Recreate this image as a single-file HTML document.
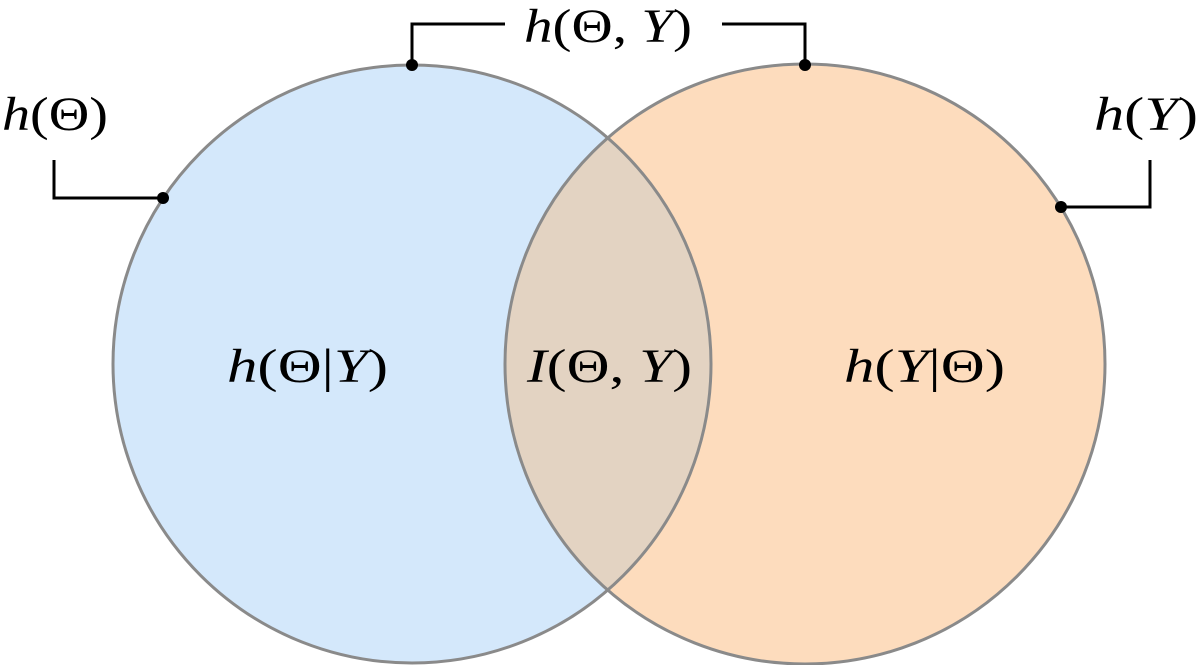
<!DOCTYPE html>
<html><head><meta charset="utf-8"><style>
html,body{margin:0;padding:0;background:#fff;}
svg{display:block;}
text{font-family:"Liberation Serif",serif;font-size:48px;fill:#000;}
.i{font-style:italic;}
</style></head><body>
<svg width="1200" height="665" viewBox="0 0 1200 665" xmlns="http://www.w3.org/2000/svg">
<defs><clipPath id="cl"><circle cx="412" cy="364" r="299"/></clipPath></defs>
<circle cx="412" cy="364" r="299" fill="#d4e8fb"/>
<circle cx="805" cy="364" r="300" fill="#fddcbd"/>
<circle cx="805" cy="364" r="300" fill="#e3d3c2" clip-path="url(#cl)"/>
<circle cx="412" cy="364" r="299" fill="none" stroke="#8a8a8a" stroke-width="3"/>
<circle cx="805" cy="364" r="300" fill="none" stroke="#8a8a8a" stroke-width="3"/>
<g stroke="#000" stroke-width="3" fill="none">
<polyline points="54,160 54,198 163,198"/>
<polyline points="412,65 412,24 505,24"/>
<polyline points="722,24 805,24 805,65"/>
<polyline points="1150,160 1150,207 1061,207"/>
</g>
<g fill="#000">
<circle cx="163" cy="198" r="6"/>
<circle cx="412" cy="65" r="6"/>
<circle cx="805" cy="65" r="6"/>
<circle cx="1061" cy="207" r="6"/>
</g>
<text x="2" y="130" textLength="106" lengthAdjust="spacingAndGlyphs"><tspan class="i">h</tspan>(Θ)</text>
<text x="524" y="42" textLength="168" lengthAdjust="spacingAndGlyphs"><tspan class="i">h</tspan>(Θ, <tspan class="i">Y</tspan>)</text>
<text x="1094" y="130" textLength="104" lengthAdjust="spacingAndGlyphs"><tspan class="i">h</tspan>(<tspan class="i">Y</tspan>)</text>
<text x="227" y="382" textLength="161" lengthAdjust="spacingAndGlyphs"><tspan class="i">h</tspan>(Θ|<tspan class="i">Y</tspan>)</text>
<text x="527" y="382" textLength="165" lengthAdjust="spacingAndGlyphs"><tspan class="i">I</tspan>(Θ, <tspan class="i">Y</tspan>)</text>
<text x="844" y="382" textLength="161" lengthAdjust="spacingAndGlyphs"><tspan class="i">h</tspan>(<tspan class="i">Y</tspan>|Θ)</text>
</svg>
</body></html>
